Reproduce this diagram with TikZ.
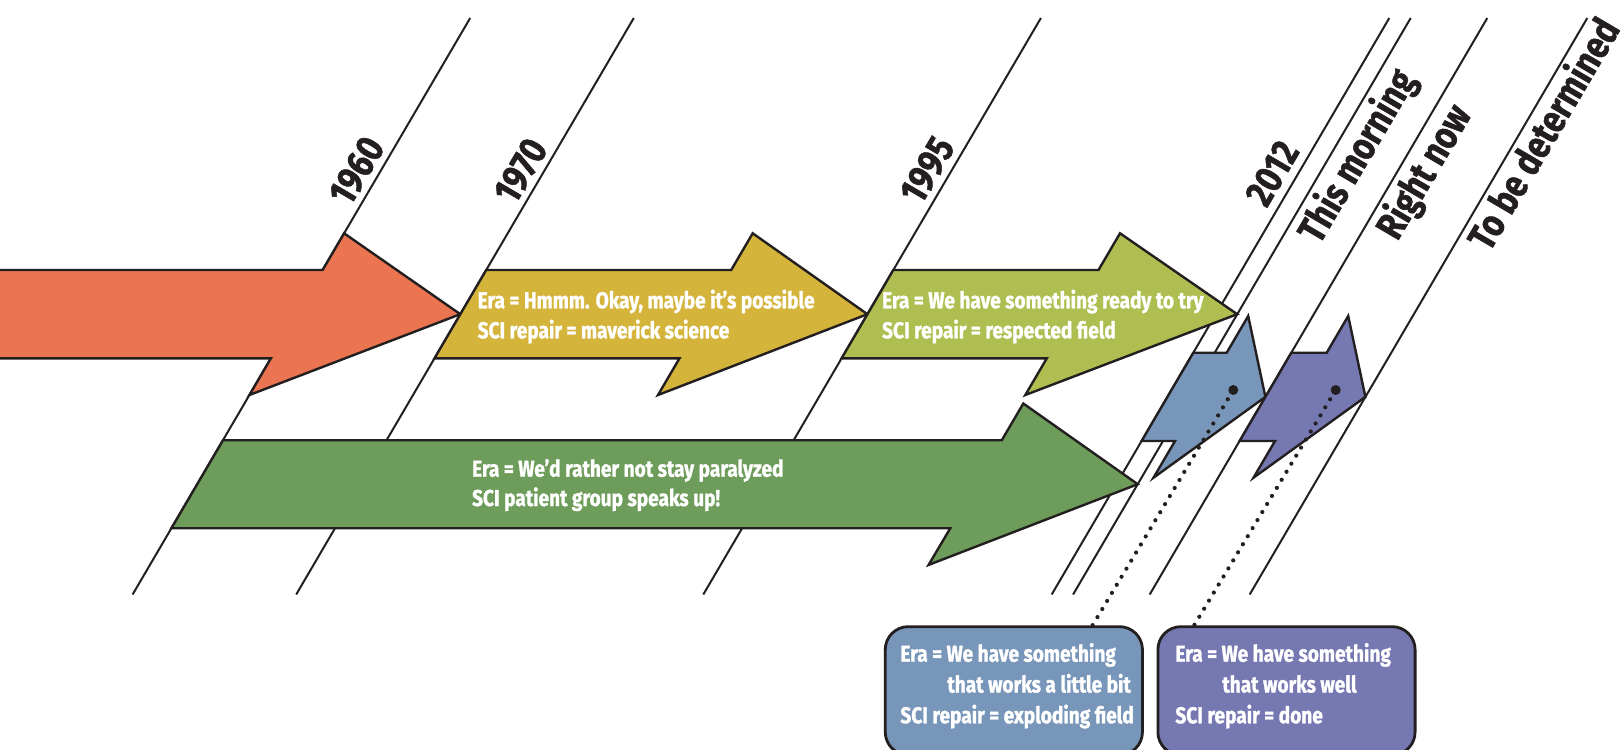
\documentclass[tikz,border=0pt]{standalone}
\usepackage{fontspec}
\setmainfont{Fira Sans}[FakeStretch=0.83, BoldFeatures={FakeBold=1.2}]
\definecolor{ink}{HTML}{231F20}
\definecolor{corange}{HTML}{EC7551}
\definecolor{cyellow}{HTML}{D5B43C}
\definecolor{clgreen}{HTML}{AFBE50}
\definecolor{cdgreen}{HTML}{6E9D5B}
\definecolor{cblue}{HTML}{7896B9}
\definecolor{cpurple}{HTML}{7678B2}
\newcommand{\twoline}[2]{\vtop{\hbox{#1}\hbox{#2}}}
\newcommand{\threeline}[3]{\vtop{\hbox{#1}\hbox{\hspace*{23.5pt}#2}\hbox{#3}}}
\begin{document}
\begin{tikzpicture}[x=0.5pt,y=-0.5pt,
  tline/.style={draw=ink, line width=1pt},
  arrowshape/.style={draw=ink, line width=1.2pt, line join=miter},
  arrowtext/.style={text=white, font=\fontsize{11.5}{15}\selectfont\bfseries, inner sep=0pt, anchor=base west},
  boxtext/.style={text=white, font=\fontsize{11.5}{15.4}\selectfont\bfseries, inner sep=0pt, anchor=base west},
  timelabel/.style={text=ink, font=\fontsize{19.5}{21}\selectfont\bfseries, rotate=59.6, inner sep=0pt, anchor=center},
  bigdot/.style={circle, fill=ink, inner sep=0pt, minimum size=5pt},
  dotline/.style={draw=ink, line width=2.1pt, line cap=round, dash pattern=on 0pt off 4.7pt, dash phase=2pt},
  callout/.style={draw=ink, line width=1.4pt, rounded corners=11.5pt, inner sep=0pt, outer sep=0pt,
    minimum width=128.6pt, minimum height=64.2pt}]
\useasboundingbox (0,0) rectangle (1624,750);
\clip (0,0) rectangle (1624,750);

% time lines
\foreach \xt in {470.2,633.8,1040.9,1389.3,1410.7,1487.3,1587.3}
  \draw[tline] (\xt,18) -- ({\xt-337.6},594.5);

% labels
\node[timelabel] (l1960) at (356.7,170.7) {1960};
\node[timelabel] (l1970) at (520.7,170.7) {1970};
\node[timelabel] (l1995) at (927.3,170) {1995};
\node[timelabel] (l2012) at (1272.3,173.3) {2012};
\node[timelabel] (lmorning) at (1358.3,156.7) {This morning};
\node[timelabel] (lnow) at (1425,172.3) {Right now};
\node[timelabel] (ltbd) at (1542,133) {To be determined};

% arrows
\draw[arrowshape, fill=corange] (-5,270) -- (322.6,270) -- (344.1,233.3) -- (460.3,314.2) -- (249.4,395) -- (270.9,358.3) -- (-5,358.3) -- cycle;
\draw[arrowshape, fill=cyellow] (486.2,270) -- (731.2,270) -- (752.7,233.3) -- (867.4,314.2) -- (658.0,395) -- (679.5,358.3) -- (434.5,358.3) -- cycle;
\draw[arrowshape, fill=clgreen] (893.3,270) -- (1098.5,270) -- (1120,233.3) -- (1237.2,314.2) -- (1025.3,395) -- (1046.8,358.3) -- (841.6,358.3) -- cycle;
\draw[arrowshape, fill=cdgreen] (223.0,440.2) -- (1001.8,440.2) -- (1023.3,403.5) -- (1137.7,484.2) -- (928.6,564.9) -- (950.3,528.2) -- (171.4,528.2) -- cycle;
\draw[arrowshape, fill=cblue] (1193.3,352.7) -- (1226.7,352.7) -- (1248.2,316) -- (1265.4,396.9) -- (1153.5,477.7) -- (1175,441) -- (1141.6,441) -- cycle;
\draw[arrowshape, fill=cpurple] (1291.3,352.7) -- (1326.7,352.7) -- (1348.2,316) -- (1365.4,396.9) -- (1253.5,477.7) -- (1275,441) -- (1239.6,441) -- cycle;

% arrow texts
\node[arrowtext] (tyellow) at (477.3,308.3) {\twoline{Era = Hmmm. Okay, maybe it’s possible}{SCI repair = maverick science}};
\node[arrowtext] (tlgreen) at (881.7,308.3) {\twoline{Era = We have something ready to try}{SCI repair = respected field}};
\node[arrowtext, font=\fontsize{11.5}{14.65}\selectfont\bfseries] (tdgreen) at (471.7,476.7) {\twoline{Era = We’d rather not stay paralyzed}{SCI patient group speaks up!}};

% callout boxes
\node[callout, fill=cblue] (box1) at (1013.85,690.85) {};
\node[callout, fill=cpurple] (box2) at (1286.5,690.85) {};
\node[boxtext] (tbox1) at (900,661.7) {\threeline{Era = We have something}{that works a little bit}{SCI repair = exploding field}};
\node[boxtext] (tbox2) at (1175,661.7) {\threeline{Era = We have something}{that works well}{SCI repair = done}};

% dots and dotted connectors
\node[bigdot] (dot1) at (1233.3,390) {};
\node[bigdot] (dot2) at (1335.7,390) {};
\coordinate (c1) at (1091.7,626.7);
\coordinate (c2) at (1193.3,626.7);
\draw[dotline] (dot1) -- (c1);
\draw[dotline] (dot2) -- (c2);
\end{tikzpicture}
\end{document}
